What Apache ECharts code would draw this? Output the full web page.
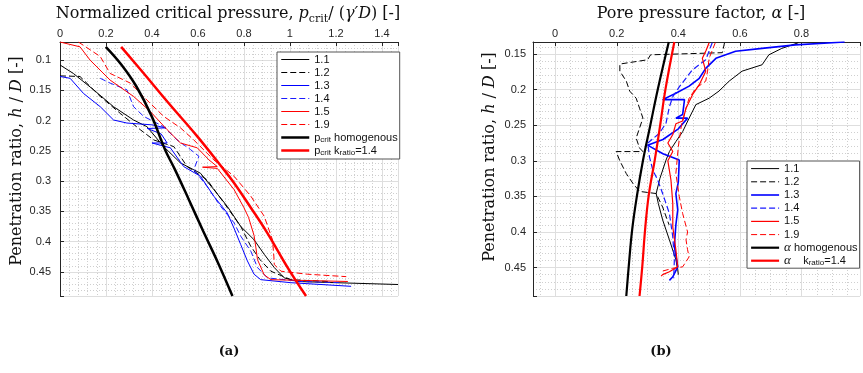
<!DOCTYPE html>
<html><head><meta charset="utf-8">
<script src="https://cdn.jsdelivr.net/npm/echarts@6/dist/echarts.min.js"></script>
<style>html,body{margin:0;padding:0;background:#fff}#c{width:863px;height:373px}</style>
</head><body><div id="c"></div>
<script>
// ---------- (a) normalized critical pressure vs penetration ratio : [pcrit/(γ'D), h/D] ----------
const crit_1_1 = [[0,0.108],[0.058,0.122],[0.146,0.149],[0.233,0.177],[0.32,0.199],[0.378,0.21],[0.451,0.243],[0.524,0.27],[0.611,0.287],[0.669,0.314],[0.728,0.342],[0.786,0.375],[0.844,0.397],[0.888,0.421],[0.932,0.443],[0.975,0.46],[1.033,0.466],[1.2,0.468],[1.47,0.471]];
const crit_1_2 = [[0,0.126],[0.087,0.127],[0.175,0.16],[0.262,0.188],[0.349,0.215],[0.408,0.232],[0.495,0.243],[0.553,0.276],[0.64,0.298],[0.713,0.336],[0.786,0.375],[0.83,0.408],[0.87,0.43],[0.917,0.449],[1.004,0.463],[1.165,0.466]];
const crit_1_3 = [[0,0.127],[0.044,0.13],[0.102,0.155],[0.175,0.177],[0.233,0.199],[0.291,0.204],[0.40,0.207],[0.46,0.212],[0.38,0.213],[0.44,0.222],[0.466,0.237],[0.40,0.237],[0.48,0.245],[0.538,0.276],[0.611,0.292],[0.669,0.325],[0.728,0.353],[0.757,0.378],[0.786,0.405],[0.815,0.432],[0.844,0.454],[0.873,0.463],[1.004,0.468],[1.266,0.474]];
const crit_1_4 = [[0.175,0.13],[0.218,0.138],[0.291,0.149],[0.32,0.177],[0.364,0.193],[0.451,0.21],[0.509,0.232],[0.568,0.248],[0.604,0.259],[0.582,0.281],[0.64,0.309],[0.699,0.342],[0.757,0.369],[0.786,0.391],[0.83,0.416],[0.859,0.443],[0.902,0.46],[1.048,0.466],[1.223,0.468]];
const crit_1_5 = [[0,0.07],[0.087,0.078],[0.131,0.1],[0.218,0.133],[0.32,0.16],[0.393,0.185],[0.466,0.215],[0.524,0.237],[0.597,0.245],[0.648,0.265],[0.684,0.276],[0.62,0.277],[0.684,0.279],[0.757,0.314],[0.80,0.344],[0.82,0.36],[0.844,0.39],[0.852,0.41],[0.859,0.43],[0.888,0.455],[0.917,0.463],[1.252,0.466]];
const crit_1_9 = [[0.08,0.07],[0.175,0.094],[0.218,0.122],[0.306,0.138],[0.378,0.166],[0.451,0.193],[0.524,0.212],[0.582,0.232],[0.669,0.265],[0.757,0.292],[0.83,0.325],[0.888,0.358],[0.924,0.397],[0.93,0.424],[0.932,0.438],[0.961,0.449],[1.077,0.454],[1.245,0.458]];
const crit_hom = [[0.199,0.078],[0.268,0.108],[0.333,0.144],[0.399,0.193],[0.457,0.248],[0.5,0.281],[0.562,0.332],[0.623,0.383],[0.687,0.435],[0.75,0.49]];
const crit_k14 = [[0.266,0.078],[0.36,0.12],[0.47,0.17],[0.597,0.226],[0.70,0.275],[0.757,0.303],[0.83,0.344],[0.902,0.386],[0.99,0.443],[1.07,0.49]];

// ---------- (b) pore pressure factor vs penetration ratio : [α, h/D] ----------
const alpha_1_1 = [[0.79,0.134],[0.736,0.142],[0.694,0.151],[0.672,0.165],[0.607,0.174],[0.565,0.188],[0.532,0.202],[0.5,0.212],[0.457,0.221],[0.435,0.24],[0.414,0.259],[0.392,0.273],[0.371,0.287],[0.36,0.299],[0.34,0.325],[0.328,0.346],[0.335,0.36],[0.349,0.383],[0.371,0.411],[0.392,0.439],[0.398,0.453],[0.40,0.46]];
const alpha_1_2 = [[0.55,0.134],[0.543,0.148],[0.31,0.151],[0.30,0.158],[0.21,0.164],[0.21,0.174],[0.231,0.188],[0.242,0.202],[0.263,0.212],[0.274,0.226],[0.285,0.24],[0.274,0.254],[0.263,0.268],[0.274,0.282],[0.285,0.287],[0.198,0.287],[0.21,0.3],[0.231,0.318],[0.253,0.332],[0.274,0.343],[0.328,0.346],[0.349,0.365],[0.37,0.39]];
const alpha_1_3 = [[0.94,0.133],[0.78,0.137],[0.672,0.142],[0.586,0.146],[0.522,0.156],[0.489,0.17],[0.468,0.184],[0.435,0.195],[0.392,0.205],[0.349,0.214],[0.42,0.214],[0.414,0.235],[0.392,0.24],[0.43,0.24],[0.40,0.255],[0.35,0.27],[0.30,0.278],[0.35,0.29],[0.403,0.299],[0.40,0.33],[0.392,0.346],[0.398,0.369],[0.392,0.39],[0.387,0.42],[0.398,0.449],[0.382,0.463],[0.371,0.468]];
const alpha_1_4 = [[0.51,0.134],[0.489,0.158],[0.446,0.172],[0.403,0.196],[0.382,0.21],[0.371,0.224],[0.36,0.247],[0.339,0.261],[0.301,0.275],[0.306,0.294],[0.317,0.313],[0.333,0.327],[0.349,0.346],[0.371,0.374],[0.382,0.407],[0.387,0.44],[0.385,0.465]];
const alpha_1_5 = [[0.50,0.134],[0.49,0.145],[0.478,0.156],[0.489,0.174],[0.468,0.193],[0.446,0.207],[0.425,0.226],[0.414,0.244],[0.392,0.248],[0.382,0.263],[0.366,0.275],[0.382,0.287],[0.366,0.3],[0.376,0.327],[0.382,0.36],[0.382,0.393],[0.392,0.425],[0.398,0.449],[0.371,0.456],[0.349,0.46],[0.344,0.462]];
const alpha_1_9 = [[0.52,0.134],[0.51,0.145],[0.5,0.156],[0.495,0.174],[0.489,0.188],[0.457,0.198],[0.435,0.212],[0.425,0.226],[0.41,0.25],[0.40,0.28],[0.392,0.318],[0.403,0.35],[0.414,0.374],[0.43,0.4],[0.425,0.411],[0.43,0.425],[0.435,0.435],[0.414,0.449],[0.382,0.451],[0.349,0.455]];
const alpha_hom = [[0.369,0.133],[0.333,0.2],[0.309,0.25],[0.285,0.3],[0.266,0.348],[0.25,0.397],[0.239,0.448],[0.231,0.49]];
const alpha_k14 = [[0.387,0.133],[0.358,0.2],[0.341,0.25],[0.323,0.3],[0.304,0.348],[0.292,0.397],[0.283,0.448],[0.274,0.49]];

const legendA = ['1.1','1.2','1.3','1.4','1.5','1.9','{n|p}{s|crit}{n| homogenous}','{n|p}{s|crit}{n| k}{s|ratio}{n|=1.4}'];
const legendB = ['1.1','1.2','1.3','1.4','1.5','1.9','{g|α}{n| homogenous}','{g|α}{n|    k}{s|ratio}{n|=1.4}'];

const AX = '#262626';
const SANS = 'Liberation Sans';
const SERIF = 'Liberation Serif';
const TSERIF = 'DejaVu Serif';
function fmt(step){ return function(v){ const r=v/step; return Math.abs(r-Math.round(r))<1e-6 ? String(+v.toFixed(2)) : ''; }; }
function axisCommon(step, minorN, margin){
  return {
    type:'value',
    minInterval: step, maxInterval: step, splitNumber: 6,
    axisLine:{show:true, onZero:false, lineStyle:{color:AX, width:1}},
    axisTick:{show:true, inside:true, length:4, lineStyle:{color:AX, width:1}},
    axisLabel:{color:AX, fontSize:11, fontFamily:SANS, margin:margin, formatter: fmt(step)},
    splitLine:{show:true, lineStyle:{color:'#dedede', width:1}},
    minorTick:{show:false, splitNumber:minorN},
    minorSplitLine:{show:true, lineStyle:{color:'#cfcfcf', width:1, type:[1,2]}}
  };
}
const DASH = [6,3];
function ln(name, data, color, width, type, idx, z, smooth){
  return {type:'line', name, data, xAxisIndex:idx, yAxisIndex:idx, symbol:'none', showSymbol:false,
    smooth: smooth || false,
    lineStyle:{color, width, type: type||'solid'}, itemStyle:{color}, z: z||2, silent:true, animation:false};
}

const richLeg = {
  n:{fontFamily:SANS, fontSize:11, color:'#111', lineHeight:13},
  s:{fontFamily:SANS, fontSize:8, color:'#111', verticalAlign:'bottom', lineHeight:9},
  g:{fontFamily:SERIF, fontStyle:'italic', fontSize:13, color:'#111', lineHeight:13}
};
const titleRich = {
  i:{fontFamily:TSERIF, fontStyle:'italic', fontSize:16, lineHeight:21, fill:'#111'},
  s:{fontFamily:TSERIF, fontSize:11, lineHeight:11, verticalAlign:'bottom', fill:'#111'}
};
function tText(x, y, text, rot){
  const el = {type:'text', x, y, silent:true, style:{
    text, fontFamily:TSERIF, fontSize:16, fill:'#111', lineHeight:21,
    textAlign:'center', textVerticalAlign:'middle', align:'center', verticalAlign:'middle', rich:titleRich}};
  if (rot) el.rotation = rot;
  return el;
}
function panelLabel(x, y, text){
  return {type:'text', x, y, silent:true, style:{text, fontFamily:TSERIF, fontWeight:'bold', fontSize:13, fill:'#111',
    textAlign:'center', textVerticalAlign:'middle', align:'center', verticalAlign:'middle'}};
}
const legCommon = {orient:'vertical', itemWidth:28, itemHeight:8, itemGap:0,
  borderColor:'#555', borderWidth:1, backgroundColor:'#fff', selectedMode:false,
  itemStyle:{opacity:0}, lineStyle:{width:'inherit'}};

const chart = echarts.init(document.getElementById('c'), null, {renderer:'canvas'});
chart.setOption({
  animation:false,
  backgroundColor:'#fff',
  grid:[{left:60, top:42, width:338, height:254}, {left:533, top:42, width:330, height:254}],
  xAxis:[
    Object.assign(axisCommon(0.2,5,3), {gridIndex:0, position:'top', min:0, max:1.47}),
    Object.assign(axisCommon(0.2,4,3), {gridIndex:1, position:'top', min:-0.072, max:0.99})
  ],
  yAxis:[
    Object.assign(axisCommon(0.05,5,9), {gridIndex:0, inverse:true, min:0.07, max:0.49}),
    Object.assign(axisCommon(0.05,5,7), {gridIndex:1, inverse:true, min:0.133, max:0.49})
  ],
  legend:[
    Object.assign({}, legCommon, {left:277, top:52, padding:[1,2,2,3],
     data:['a1.1','a1.2','a1.3','a1.4','a1.5','a1.9','ahom','ak'],
     formatter: n => ({'a1.1':legendA[0],'a1.2':legendA[1],'a1.3':legendA[2],'a1.4':legendA[3],'a1.5':legendA[4],'a1.9':legendA[5],'ahom':legendA[6],'ak':legendA[7]})[n],
     textStyle:{fontFamily:SANS, fontSize:11, color:'#111', lineHeight:13, rich:richLeg}}),
    Object.assign({}, legCommon, {left:747, top:161, padding:[1,2,1,3],
     data:['b1.1','b1.2','b1.3','b1.4','b1.5','b1.9','bhom','bk'],
     formatter: n => ({'b1.1':legendB[0],'b1.2':legendB[1],'b1.3':legendB[2],'b1.4':legendB[3],'b1.5':legendB[4],'b1.9':legendB[5],'bhom':legendB[6],'bk':legendB[7]})[n],
     textStyle:{fontFamily:SANS, fontSize:11, color:'#111', lineHeight:13.2, rich:richLeg}})
  ],
  series:[
    ln('a1.1', crit_1_1, '#000', 1, 'solid', 0),
    ln('a1.2', crit_1_2, '#000', 1, DASH, 0),
    ln('a1.3', crit_1_3, '#0000ff', 1, 'solid', 0),
    ln('a1.4', crit_1_4, '#1a1aff', 1, DASH, 0),
    ln('a1.5', crit_1_5, '#ff0000', 1, 'solid', 0),
    ln('a1.9', crit_1_9, '#ff0000', 1, DASH, 0),
    ln('ahom', crit_hom, '#000', 2.5, 'solid', 0, 3, 0.4),
    ln('ak', crit_k14, '#ff0000', 2.5, 'solid', 0, 3, 0.4),
    ln('b1.1', alpha_1_1, '#000', 1, 'solid', 1),
    ln('b1.2', alpha_1_2, '#000', 1, DASH, 1),
    ln('b1.3', alpha_1_3, '#0000ff', 1.6, 'solid', 1),
    ln('b1.4', alpha_1_4, '#1a1aff', 1.2, DASH, 1),
    ln('b1.5', alpha_1_5, '#ff0000', 1.2, 'solid', 1),
    ln('b1.9', alpha_1_9, '#ff0000', 1, DASH, 1),
    ln('bhom', alpha_hom, '#000', 2.2, 'solid', 1, 3, 0.4),
    ln('bk', alpha_k14, '#ff0000', 2.2, 'solid', 1, 3, 0.4)
  ],
  graphic:[
    tText(228, 14, 'Normalized critical pressure, {i|p}{s|crit}/ ({i|γ′D}) [-]'),
    tText(701, 14, 'Pore pressure factor, {i|α} [-]'),
    tText(17, 161, 'Penetration ratio, {i|h} / {i|D} [-]', Math.PI/2),
    tText(490, 157, 'Penetration ratio, {i|h} / {i|D} [-]', Math.PI/2),
    panelLabel(229, 352, '(a)'),
    panelLabel(661, 352, '(b)')
  ]
});
</script></body></html>
